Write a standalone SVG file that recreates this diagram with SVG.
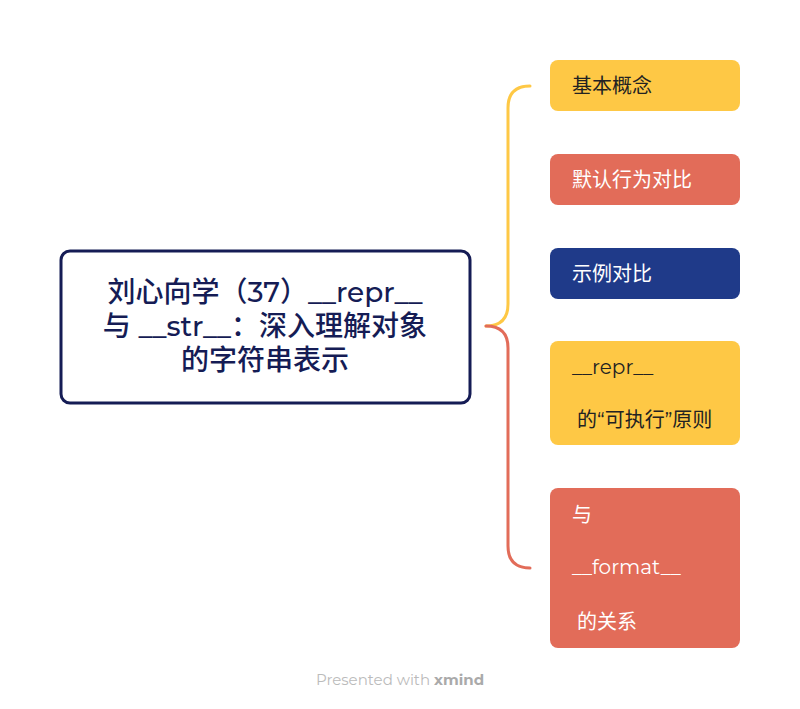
<svg xmlns="http://www.w3.org/2000/svg" width="800" height="709" viewBox="0 0 800 709">
<style>
text{font-family:Montserrat,"Noto Sans","Noto Sans CJK SC",sans-serif}
.t{font-size:20px}
.y{fill:#FEC845}.r{fill:#E26C59}.b{fill:#1F3A89}
.h{font-size:28px;font-weight:500}
</style>
<rect width="800" height="709" fill="#fff"/>
<g id="connectors" fill="none" stroke-width="3" stroke-linecap="round">
<path d="M486 326 Q508 326 508 304 L508 108 Q508 86 530 86" stroke="#FEC845"/>
<path d="M486 326 Q508 326 508 348 L508 546 Q508 568 530 568" stroke="#E26C59"/>
</g>
<g id="root">
<rect x="61" y="251" width="409" height="152" rx="9" fill="#fff" stroke="#151C55" stroke-width="3"/>
<text class="h" x="265" y="302" text-anchor="middle" fill="#151C55">刘心向学（37）__repr__</text>
<text class="h" x="265" y="336" text-anchor="middle" fill="#151C55">与 __str__：深入理解对象</text>
<text class="h" x="265" y="370" text-anchor="middle" fill="#151C55">的字符串表示</text>
</g>
<g id="n1"><rect class="y" x="550" y="60" width="190" height="51" rx="8"/><text class="t" x="572" y="93" fill="#222">基本概念</text></g>
<g id="n2"><rect class="r" x="550" y="154" width="190" height="51" rx="8"/><text class="t" x="572" y="187" fill="#fff">默认行为对比</text></g>
<g id="n3"><rect class="b" x="550" y="248" width="190" height="51" rx="8"/><text class="t" x="572" y="281" fill="#fff">示例对比</text></g>
<g id="n4"><rect class="y" x="550" y="341" width="190" height="104" rx="8"/><text class="t" x="572" y="374" fill="#222">__repr__</text><text class="t" x="577" y="427" fill="#222">的“可执行”原则</text></g>
<g id="n5"><rect class="r" x="550" y="488" width="190" height="160" rx="8"/><text class="t" x="572" y="522" fill="#fff">与</text><text class="t" x="572" y="574" fill="#fff">__format__</text><text class="t" x="577" y="629" fill="#fff">的关系</text></g>
<text x="400" y="685" font-size="15" text-anchor="middle" fill="#bbb">Presented with <tspan font-weight="bold" fill="#aaa">xmind</tspan></text>
</svg>
